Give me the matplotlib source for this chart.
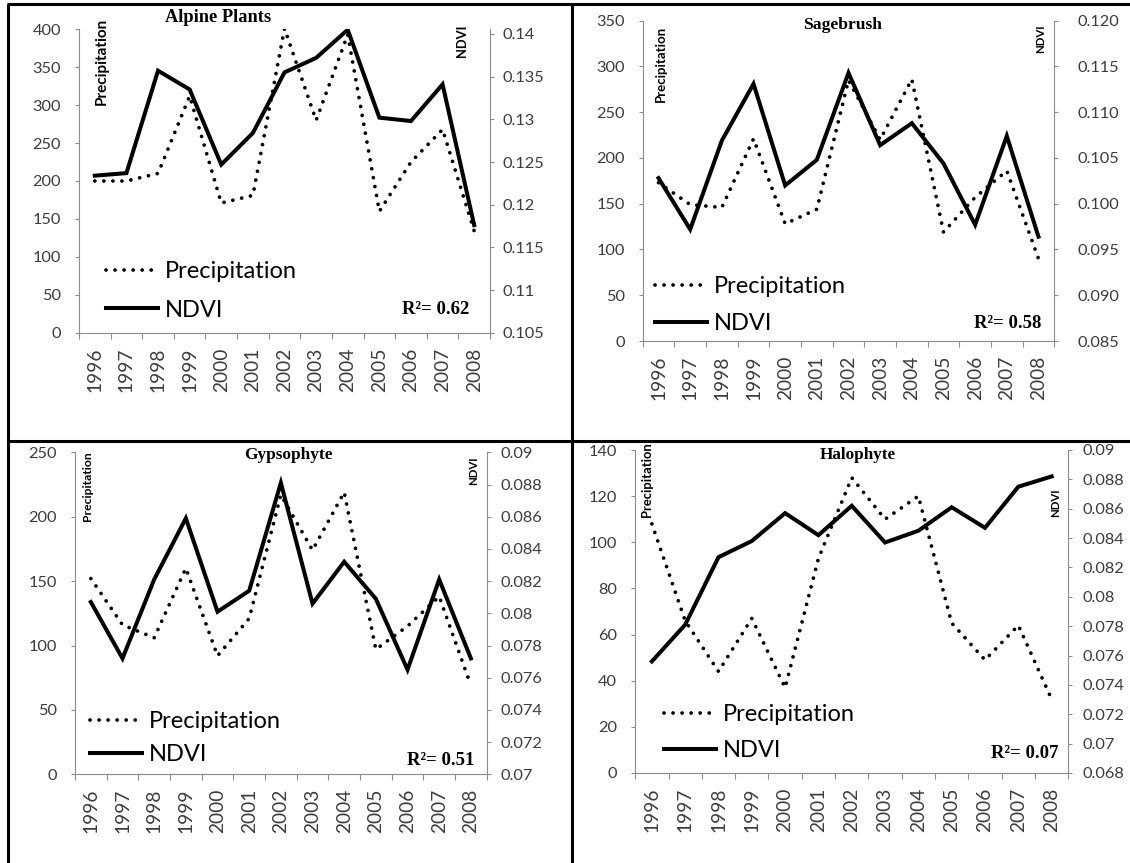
import matplotlib
matplotlib.use("Agg")
import matplotlib.pyplot as plt
from matplotlib.lines import Line2D
import numpy as np

W, H, DPI = 1130, 863, 100

# ---- data -----------------------------------------------------------------
years = ["1996", "1997", "1998", "1999", "2000", "2001", "2002",
         "2003", "2004", "2005", "2006", "2007", "2008"]

alpine_precip = [200, 200, 210, 312, 171, 181, 401, 280, 393, 160, 225, 268, 134]
alpine_ndvi = [0.1234, 0.1237, 0.1357, 0.1335, 0.1247, 0.1284, 0.1355,
               0.1372, 0.1405, 0.1302, 0.1298, 0.1341, 0.1176]

sage_precip = [173, 149, 146, 221, 128, 144, 285, 220, 286, 119, 157, 186, 90]
sage_ndvi = [0.1028, 0.0972, 0.1069, 0.1131, 0.1020, 0.1048, 0.1143,
             0.1064, 0.1088, 0.1044, 0.0977, 0.1074, 0.0964]

gyps_precip = [152, 116, 106, 160, 92, 121, 217, 174, 219, 97, 115, 138, 69]
gyps_ndvi = [0.0807, 0.0772, 0.0821, 0.0859, 0.0801, 0.0814, 0.0881,
             0.0806, 0.0832, 0.0809, 0.0765, 0.0821, 0.0772]

halo_precip = [108, 66, 44, 67, 37, 93, 128, 110, 120, 65, 49, 64, 32]
halo_ndvi = [0.0756, 0.0781, 0.0827, 0.0838, 0.0857, 0.0842, 0.0862,
             0.0837, 0.0845, 0.0861, 0.0847, 0.0875, 0.0882]

alpine_precip_ticks = [0, 50, 100, 150, 200, 250, 300, 350, 400]
sage_precip_ticks = [0, 50, 100, 150, 200, 250, 300, 350]
gyps_precip_ticks = [0, 50, 100, 150, 200, 250]
halo_precip_ticks = [0, 20, 40, 60, 80, 100, 120, 140]

alpine_ndvi_ticks = ["0.105", "0.11", "0.115", "0.12", "0.125", "0.13", "0.135", "0.14"]
sage_ndvi_ticks = ["0.085", "0.090", "0.095", "0.100", "0.105", "0.110", "0.115", "0.120"]
gyps_ndvi_ticks = ["0.07", "0.072", "0.074", "0.076", "0.078", "0.08",
                   "0.082", "0.084", "0.086", "0.088", "0.09"]
halo_ndvi_ticks = ["0.068", "0.07", "0.072", "0.074", "0.076", "0.078", "0.08",
                   "0.082", "0.084", "0.086", "0.088", "0.09"]

titles = ["Alpine Plants", "Sagebrush", "Gypsophyte", "Halophyte"]
r2_values = ["0.62", "0.58", "0.51", "0.07"]

# ---- layout (pixel units) -------------------------------------------------
def fx(x):
    return x / W


def fy(y):
    return 1 - y / H


panels = [
    dict(precip=alpine_precip, ndvi=alpine_ndvi, pticks=alpine_precip_ticks,
         nticks=alpine_ndvi_ticks, ntop=0.14055,
         box=(79.0, 29.3, 490.0, 332.7), title_xy=(218, 18), title_fs=13.2,
         plab=(102, 61, 11.0), nlab=(462, 41, 9.3), rpad=6,
         leg=(106, 261, 0.75), r2=(436, 309)),
    dict(precip=sage_precip, ndvi=sage_ndvi, pticks=sage_precip_ticks,
         nticks=sage_ndvi_ticks, ntop=None,
         box=(642.7, 20.7, 1054.3, 341.0), title_xy=(843, 25), title_fs=12.6,
         plab=(661, 64, 9.5), nlab=(1041, 39, 8.2), rpad=14,
         leg=(655, 276, 0.69), r2=(1008, 323)),
    dict(precip=gyps_precip, ndvi=gyps_ndvi, pticks=gyps_precip_ticks,
         nticks=gyps_ndvi_ticks, ntop=None,
         box=(75.0, 452.3, 486.7, 774.3), title_xy=(288, 455), title_fs=12.4,
         plab=(87, 486, 8.7), nlab=(474, 471, 8.2), rpad=7,
         leg=(90, 711, 0.52), r2=(441, 760)),
    dict(precip=halo_precip, ndvi=halo_ndvi, pticks=halo_precip_ticks,
         nticks=halo_ndvi_ticks, ntop=None,
         box=(635.2, 450.0, 1068.3, 773.0), title_xy=(858, 455), title_fs=12.3,
         plab=(647, 480, 9.4), nlab=(1056, 503, 8.2), rpad=7,
         leg=(664, 704, 0.64), r2=(1025, 753)),
]

SANS = ["Lato", "DejaVu Sans"]
SERIF = ["Liberation Serif", "DejaVu Serif"]
AXIS_GREY = "#8c8c8c"
LABEL_GREY = "#3c3c3c"

fig = plt.figure(figsize=(W / DPI, H / DPI), dpi=DPI)
fig.patch.set_facecolor("white")

x = np.arange(len(years))

for p, title, r2 in zip(panels, titles, r2_values):
    left, top, right, bottom = p["box"]
    ax = fig.add_axes([fx(left), fy(bottom), (right - left) / W, (bottom - top) / H])
    ax2 = ax.twinx()

    l_prec, = ax.plot(x, p["precip"], color="black", lw=2.7,
                      linestyle=(0, (0.01, 2.4)), dash_capstyle="round",
                      label="Precipitation")
    l_ndvi, = ax2.plot(x, p["ndvi"], color="black", lw=2.9,
                       solid_joinstyle="miter", label="NDVI")

    # category axis: ticks between categories, labels at the centres
    ax.set_xlim(-0.5, len(years) - 0.5)
    ax.set_xticks(np.arange(-0.5, len(years), 1.0))
    ax.set_xticklabels([])
    ax.set_xticks(x, minor=True)
    ax.set_xticklabels(years, minor=True, rotation=90, fontsize=13.8,
                       family=SANS, color=LABEL_GREY)
    ax.tick_params(axis="x", which="major", direction="out", length=4.2,
                   width=0.8, color=AXIS_GREY)
    ax.tick_params(axis="x", which="minor", length=0, pad=10.5)

    # precipitation axis
    pt = p["pticks"]
    ax.set_ylim(pt[0], pt[-1])
    ax.set_yticks(pt)
    ax.set_yticklabels([str(v) for v in pt], fontsize=11.8, family=SANS,
                       color=LABEL_GREY)
    ax.tick_params(axis="y", direction="out", length=3, width=0.8,
                   color=AXIS_GREY, pad=10)

    # NDVI axis
    nt = [float(s) for s in p["nticks"]]
    ax2.set_ylim(nt[0], p["ntop"] if p["ntop"] else nt[-1])
    ax2.set_yticks(nt)
    ax2.set_yticklabels(p["nticks"], fontsize=11.8, family=SANS, color=LABEL_GREY)
    ax2.tick_params(axis="y", direction="out", length=3, width=0.8,
                    color=AXIS_GREY, pad=p["rpad"])

    for a in (ax, ax2):
        for s in a.spines.values():
            s.set_color(AXIS_GREY)
            s.set_linewidth(0.8)
        a.spines["top"].set_visible(False)
        a.patch.set_visible(False)
    ax.spines["right"].set_visible(False)
    ax2.spines["left"].set_visible(False)
    ax2.spines["bottom"].set_visible(False)

    # title, axis names and correlation note
    tx, ty = p["title_xy"]
    fig.text(fx(tx), fy(ty), title, ha="center", va="center",
             family=SERIF, weight="bold", fontsize=p["title_fs"])
    px_, py_, pfs = p["plab"]
    fig.text(fx(px_), fy(py_), "Precipitation", rotation=90, ha="center",
             va="center", family=SANS, weight="bold", fontsize=pfs)
    nx_, ny_, nfs = p["nlab"]
    fig.text(fx(nx_), fy(ny_), "NDVI", rotation=90, ha="center", va="center",
             family=SANS, weight="bold", fontsize=nfs)
    rx, ry = p["r2"]
    fig.text(fx(rx), fy(ry), "R\u00b2= " + r2, ha="center", va="center",
             family=SERIF, weight="bold", fontsize=13.5)

    lx, ly, lsp = p["leg"]
    ax2.legend(handles=[l_prec, l_ndvi], loc="upper left",
               bbox_to_anchor=(fx(lx), fy(ly)),
               bbox_transform=fig.transFigure, frameon=False,
               borderpad=0, borderaxespad=0, handlelength=2.2,
               handletextpad=0.3, labelspacing=lsp,
               prop={"family": SANS, "size": 17})

# panel frame lines
frame_kw = dict(color="black", lw=2.2, transform=fig.transFigure,
                solid_capstyle="butt")
fig.add_artist(Line2D([fx(7), fx(W)], [fy(4), fy(4)], **frame_kw))
fig.add_artist(Line2D([fx(7.5), fx(7.5)], [fy(4), fy(H)], **frame_kw))
fig.add_artist(Line2D([fx(571.7), fx(571.7)], [fy(4), fy(H)], **frame_kw))
fig.add_artist(Line2D([fx(7), fx(W)], [fy(440.7), fy(440.7)], **frame_kw))

fig.savefig("out.png", dpi=DPI, facecolor="white")
